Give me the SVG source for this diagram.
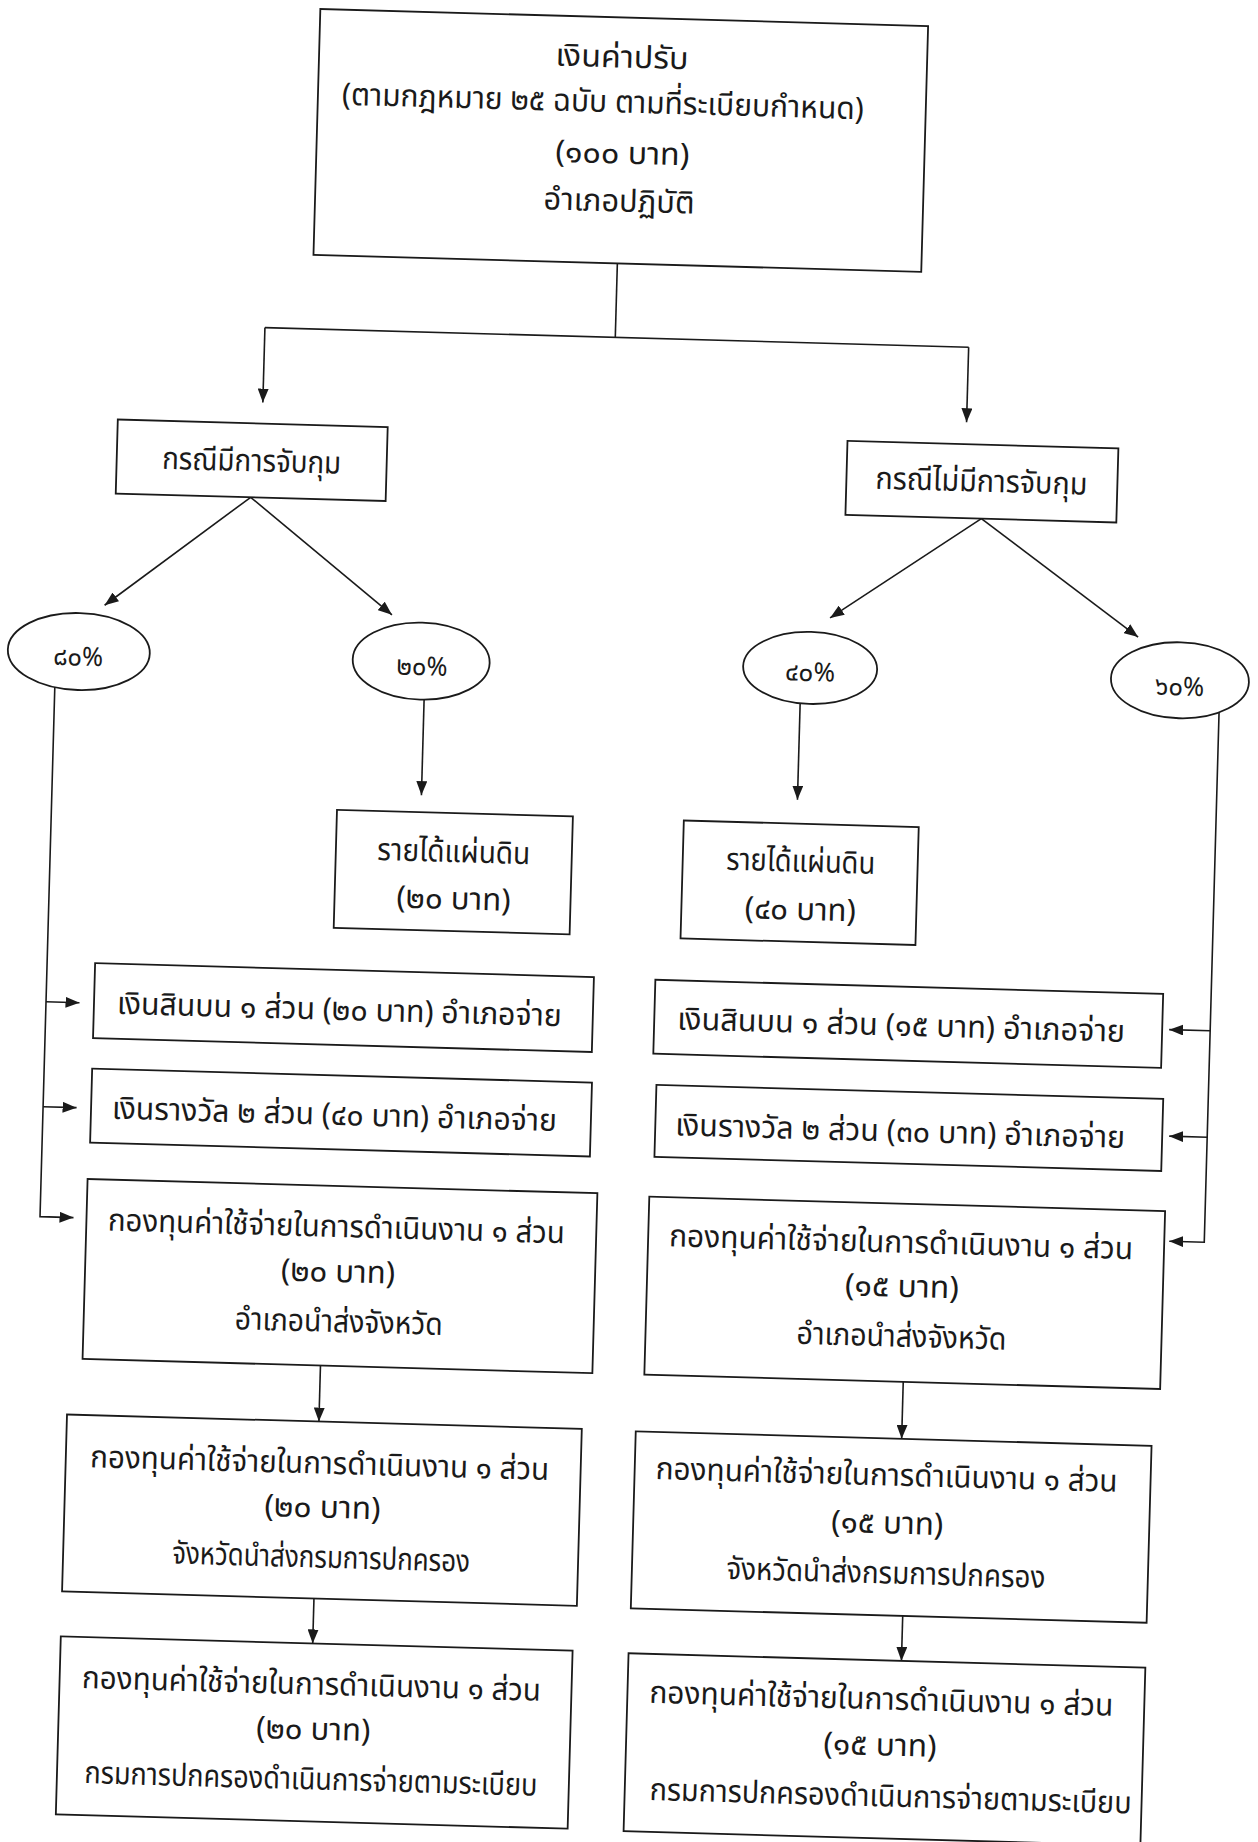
<svg xmlns="http://www.w3.org/2000/svg" width="1258" height="1842" viewBox="0 0 1258 1842">
<defs>
<style>
.box{fill:#fff;stroke:#1a1a1a;stroke-width:1.8}
.ell{fill:#fff;stroke:#1a1a1a;stroke-width:1.8}
.t{font-family:"Noto Sans Thai","Noto Sans Thai Looped","Noto Sans","DejaVu Sans",sans-serif;font-size:31px;fill:#1a1a1a;text-anchor:middle}
.p{font-size:26px}
.c{fill:none;stroke:#1a1a1a;stroke-width:1.6}
.a{marker-end:url(#ah)}
</style>
<marker id="ah" viewBox="0 0 14 11" refX="14" refY="5.5" markerWidth="14" markerHeight="11" markerUnits="userSpaceOnUse" orient="auto"><path d="M0,0 L14,5.5 L0,11 z" fill="#1a1a1a"/></marker>
</defs>
<rect width="1258" height="1842" fill="#fff"/>
<g transform="rotate(1.6 629 921)">
<g id="connectors">
<path class="c" d="M599,264 V338"/>
<path class="c" d="M248.5,338 H952.5"/>
<path class="c a" d="M248.5,338 V413"/>
<path class="c a" d="M952.5,338 V413"/>
<path class="c a" d="M239,508 L96,620"/>
<path class="c a" d="M239,508 L383.5,621.6"/>
<path class="c a" d="M970,509 L821.5,612.4"/>
<path class="c a" d="M970,509 L1130,623"/>
<path class="c a" d="M418,705.5 V801"/>
<path class="c a" d="M794,699 V795"/>
<path class="c a" d="M48.5,703 V1233 H82"/>
<path class="c a" d="M48.5,1018 H82"/>
<path class="c a" d="M48.5,1123 H82"/>
<path class="c a" d="M1213,695 V1226 H1178"/>
<path class="c a" d="M1213,1014.5 H1172"/>
<path class="c a" d="M1213,1121 H1175"/>
<path class="c a" d="M333,1374 V1430"/>
<path class="c a" d="M333,1607 V1652"/>
<path class="c a" d="M916,1374 V1431"/>
<path class="c a" d="M922,1608 V1653"/>
</g>
<g id="n-top">
<rect class="box" x="295" y="18" width="608" height="246"/>
<text class="t" x="598" y="68" textLength="133" lengthAdjust="spacingAndGlyphs">เงินค่าปรับ</text>
<text class="t" x="580" y="113" textLength="522" lengthAdjust="spacingAndGlyphs">(ตามกฎหมาย ๒๕ ฉบับ ตามที่ระเบียบกำหนด)</text>
<text class="t" x="601" y="164" textLength="134" lengthAdjust="spacingAndGlyphs">(๑๐๐ บาท)</text>
<text class="t" x="599" y="212" textLength="151" lengthAdjust="spacingAndGlyphs">อำเภอปฏิบัติ</text>
</g>
<g id="n-case-arrest">
<rect class="box" x="104" y="434" width="270" height="74"/>
<text class="t" x="239" y="482" textLength="179" lengthAdjust="spacingAndGlyphs">กรณีมีการจับกุม</text>
</g>
<g id="n-case-noarrest">
<rect class="box" x="834" y="435" width="271" height="74"/>
<text class="t" x="969" y="482" textLength="212" lengthAdjust="spacingAndGlyphs">กรณีไม่มีการจับกุม</text>
</g>
<g id="n-80">
<ellipse class="ell" cx="71.5" cy="667" rx="71" ry="38.5"/>
<text class="t p" x="71" y="681" textLength="50" lengthAdjust="spacingAndGlyphs">๘๐%</text>
</g>
<g id="n-20">
<ellipse class="ell" cx="414" cy="667" rx="68.5" ry="38.5"/>
<text class="t p" x="415" y="681" textLength="51" lengthAdjust="spacingAndGlyphs">๒๐%</text>
</g>
<g id="n-40">
<ellipse class="ell" cx="803" cy="663" rx="67" ry="36"/>
<text class="t p" x="803" y="676" textLength="50" lengthAdjust="spacingAndGlyphs">๔๐%</text>
</g>
<g id="n-60">
<ellipse class="ell" cx="1173" cy="665" rx="69" ry="38"/>
<text class="t p" x="1173" y="680" textLength="49" lengthAdjust="spacingAndGlyphs">๖๐%</text>
</g>
<g id="n-rev-20">
<rect class="box" x="334" y="818" width="236" height="118"/>
<text class="t" x="452" y="867" textLength="153" lengthAdjust="spacingAndGlyphs">รายได้แผ่นดิน</text>
<text class="t" x="453" y="914" textLength="114" lengthAdjust="spacingAndGlyphs">(๒๐ บาท)</text>
</g>
<g id="n-rev-40">
<rect class="box" x="681" y="819" width="235" height="118"/>
<text class="t" x="799" y="867" textLength="149" lengthAdjust="spacingAndGlyphs">รายได้แผ่นดิน</text>
<text class="t" x="800" y="915" textLength="111" lengthAdjust="spacingAndGlyphs">(๔๐ บาท)</text>
</g>
<g id="n-a1">
<rect class="box" x="96.5" y="978" width="499" height="75"/>
<text class="t" x="342" y="1028" textLength="445" lengthAdjust="spacingAndGlyphs">เงินสินบน ๑ ส่วน (๒๐ บาท) อำเภอจ่าย</text>
</g>
<g id="n-a2">
<rect class="box" x="96.5" y="1083.5" width="500" height="74"/>
<text class="t" x="340" y="1133" textLength="445" lengthAdjust="spacingAndGlyphs">เงินรางวัล ๒ ส่วน (๔๐ บาท) อำเภอจ่าย</text>
</g>
<g id="n-a3">
<rect class="box" x="95" y="1194" width="510" height="180"/>
<text class="t" x="345" y="1245" textLength="457" lengthAdjust="spacingAndGlyphs">กองทุนค่าใช้จ่ายในการดำเนินงาน ๑ ส่วน</text>
<text class="t" x="348" y="1290" textLength="114" lengthAdjust="spacingAndGlyphs">(๒๐ บาท)</text>
<text class="t" x="350" y="1340" textLength="208" lengthAdjust="spacingAndGlyphs">อำเภอนำส่งจังหวัด</text>
</g>
<g id="n-a4">
<rect class="box" x="81" y="1430" width="515" height="177"/>
<text class="t" x="335" y="1482" textLength="459" lengthAdjust="spacingAndGlyphs">กองทุนค่าใช้จ่ายในการดำเนินงาน ๑ ส่วน</text>
<text class="t" x="339" y="1526" textLength="116" lengthAdjust="spacingAndGlyphs">(๒๐ บาท)</text>
<text class="t" x="339" y="1576" textLength="298" lengthAdjust="spacingAndGlyphs">จังหวัดนำส่งกรมการปกครอง</text>
</g>
<g id="n-a5">
<rect class="box" x="81" y="1652" width="512" height="178"/>
<text class="t" x="333" y="1703" textLength="459" lengthAdjust="spacingAndGlyphs">กองทุนค่าใช้จ่ายในการดำเนินงาน ๑ ส่วน</text>
<text class="t" x="336" y="1748" textLength="114" lengthAdjust="spacingAndGlyphs">(๒๐ บาท)</text>
<text class="t" x="335" y="1798" textLength="453" lengthAdjust="spacingAndGlyphs">กรมการปกครองดำเนินการจ่ายตามระเบียบ</text>
</g>
<g id="n-b1">
<rect class="box" x="657" y="979" width="508" height="74"/>
<text class="t" x="904" y="1028" textLength="448" lengthAdjust="spacingAndGlyphs">เงินสินบน ๑ ส่วน (๑๕ บาท) อำเภอจ่าย</text>
</g>
<g id="n-b2">
<rect class="box" x="661" y="1084" width="507" height="72"/>
<text class="t" x="906" y="1134" textLength="450" lengthAdjust="spacingAndGlyphs">เงินรางวัล ๒ ส่วน (๓๐ บาท) อำเภอจ่าย</text>
</g>
<g id="n-b3">
<rect class="box" x="657" y="1196" width="516" height="178"/>
<text class="t" x="910" y="1245" textLength="464" lengthAdjust="spacingAndGlyphs">กองทุนค่าใช้จ่ายในการดำเนินงาน ๑ ส่วน</text>
<text class="t" x="912" y="1289" textLength="114" lengthAdjust="spacingAndGlyphs">(๑๕ บาท)</text>
<text class="t" x="913" y="1339" textLength="210" lengthAdjust="spacingAndGlyphs">อำเภอนำส่งจังหวัด</text>
</g>
<g id="n-b4">
<rect class="box" x="650" y="1431" width="516" height="177"/>
<text class="t" x="902" y="1478" textLength="462" lengthAdjust="spacingAndGlyphs">กองทุนค่าใช้จ่ายในการดำเนินงาน ๑ ส่วน</text>
<text class="t" x="904" y="1526" textLength="112" lengthAdjust="spacingAndGlyphs">(๑๕ บาท)</text>
<text class="t" x="904" y="1576" textLength="319" lengthAdjust="spacingAndGlyphs">จังหวัดนำส่งกรมการปกครอง</text>
</g>
<g id="n-b5">
<rect class="box" x="649" y="1653" width="517" height="178"/>
<text class="t" x="903" y="1702" textLength="464" lengthAdjust="spacingAndGlyphs">กองทุนค่าใช้จ่ายในการดำเนินงาน ๑ ส่วน</text>
<text class="t" x="903" y="1748" textLength="113" lengthAdjust="spacingAndGlyphs">(๑๕ บาท)</text>
<text class="t" x="915" y="1799" textLength="482" lengthAdjust="spacingAndGlyphs">กรมการปกครองดำเนินการจ่ายตามระเบียบ</text>
</g>
</g>
</svg>
